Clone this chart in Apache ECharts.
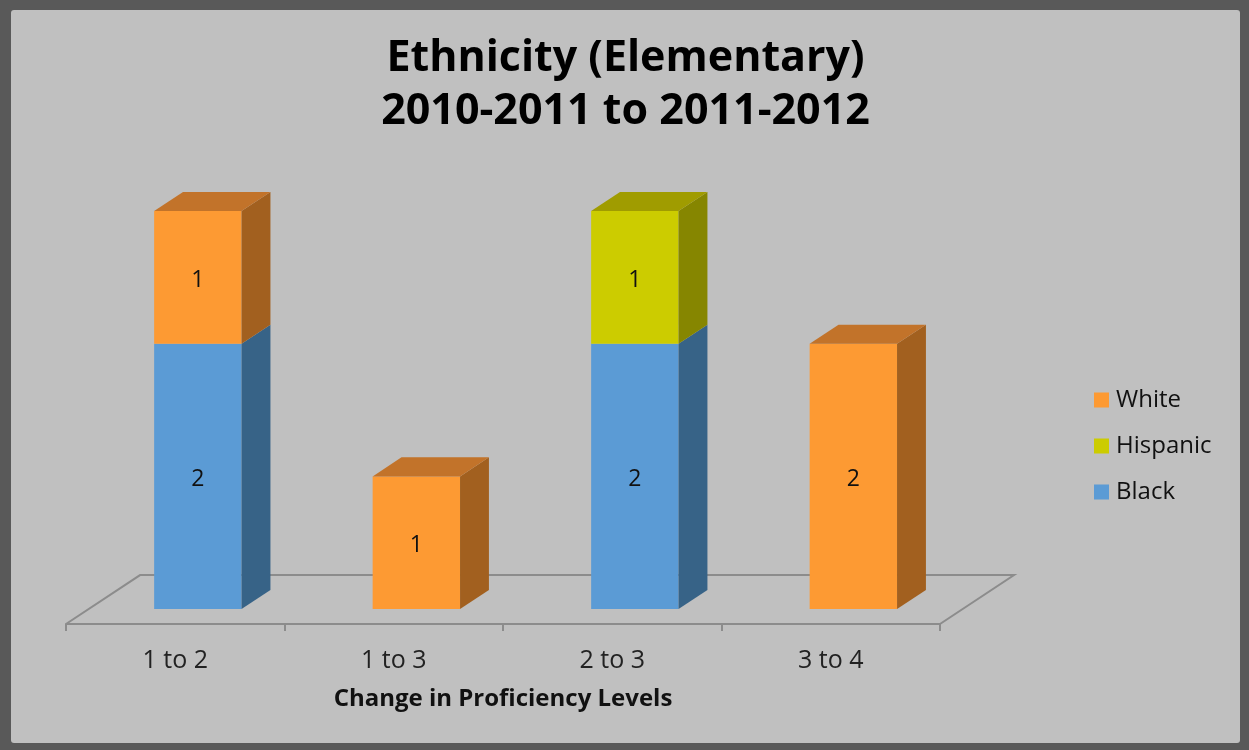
<!DOCTYPE html>
<html>
<head>
<meta charset="utf-8">
<script src="https://cdn.jsdelivr.net/npm/echarts@6/dist/echarts.min.js"></script>
<style>
  html, body { margin: 0; padding: 0; width: 1249px; height: 750px; background: #595959; overflow: hidden; }
  #chart { position: absolute; left: 11px; top: 10px; width: 1229px; height: 733px; border-radius: 3px; overflow: hidden; }
</style>
</head>
<body>
<div id="chart"></div>
<script>
// Categories and per-group counts (stacked bottom to top: Black, Hispanic, White)
const categories = ['1 to 2', '1 to 3', '2 to 3', '3 to 4'];
const black    = [2, 0, 2, 0];
const hispanic = [0, 0, 1, 0];
const white    = [1, 1, 0, 2];
const legendOrder = ['White', 'Hispanic', 'Black'];

// Face colours for each stack segment: front, side, top
const palette = {
  Black:    { front: '#5b9bd5', side: '#376387', top: '#4a80b2' },
  Hispanic: { front: '#cccc00', side: '#868600', top: '#a09c00' },
  White:    { front: '#fd9a33', side: '#a2601f', top: '#c2732a' }
};

const FONT = '"Open Sans", Lato, sans-serif';

// Oblique projection of the floor depth, as fractions of the category band
const DEPTH_X = 0.339, DEPTH_Y = -0.224;
const BAR_FRONT = 0.305, BAR_BACK = 0.695; // bar position within the floor depth
const BAR_WIDTH = 0.40;

const stackOrder = [['Black', black], ['Hispanic', hispanic], ['White', white]];
const totals = categories.map((_, i) => black[i] + hispanic[i] + white[i]);

function buildData(idx) {
  const values = stackOrder[idx][1];
  return categories.map((_, i) => {
    let base = 0;
    for (let k = 0; k < idx; k++) base += stackOrder[k][1][i];
    return [i, base, values[i]];
  });
}

function boxRenderer(name) {
  const col = palette[name];
  return function (params, api) {
    const cat = api.value(0), base = api.value(1), val = api.value(2);
    if (!val) return;
    const band = api.size([1, 0])[0];
    const dx = band * DEPTH_X, dy = band * DEPTH_Y;
    const pb = api.coord([cat, base]);
    const pt = api.coord([cat, base + val]);
    const w = band * BAR_WIDTH;
    const fx = pb[0] - w / 2 + dx * BAR_FRONT;
    const fyB = pb[1] + dy * BAR_FRONT;
    const fyT = pt[1] + dy * BAR_FRONT;
    const ddx = dx * (BAR_BACK - BAR_FRONT), ddy = dy * (BAR_BACK - BAR_FRONT);
    const children = [
      { type: 'rect', shape: { x: fx, y: fyT, width: w, height: fyB - fyT },
        style: { fill: col.front } },
      { type: 'polygon', shape: { points: [[fx + w, fyB], [fx + w + ddx, fyB + ddy], [fx + w + ddx, fyT + ddy], [fx + w, fyT]] },
        style: { fill: col.side } }
    ];
    if (base + val >= totals[cat]) {
      children.push({ type: 'polygon', shape: { points: [[fx, fyT], [fx + w, fyT], [fx + w + ddx, fyT + ddy], [fx + ddx, fyT + ddy]] },
        style: { fill: col.top } });
    }
    children.push({ type: 'text', x: fx + w / 2, y: (fyT + fyB) / 2 + 3,
      style: { text: String(val), fill: '#111', font: '23px ' + FONT, align: 'center', verticalAlign: 'middle' } });
    return { type: 'group', children };
  };
}

function floorRenderer(params, api) {
  const band = api.size([1, 0])[0];
  const dx = band * DEPTH_X, dy = band * DEPTH_Y;
  const l = api.coord([0, 0]);
  const r = api.coord([categories.length - 1, 0]);
  const x0 = l[0] - band / 2, x1 = r[0] + band / 2, y0 = l[1];
  return { type: 'polyline',
    shape: { points: [[x0, y0], [x0 + dx, y0 + dy], [x1 + dx, y0 + dy], [x1, y0]] },
    style: { stroke: '#8c8c8c', lineWidth: 2, fill: null } };
}

const series = [{
  name: 'floor', type: 'custom', renderItem: floorRenderer, data: [[0, 0]],
  encode: { x: 0, y: 1 }, z: 1, silent: true, clip: false
}];
stackOrder.forEach(([name], idx) => {
  series.push({
    name, type: 'custom', renderItem: boxRenderer(name), data: buildData(idx),
    encode: { x: 0, y: [1, 2] }, itemStyle: { color: palette[name].front }, z: 2 + idx, clip: false
  });
});

const chart = echarts.init(document.getElementById('chart'), null, { renderer: 'canvas' });
chart.setOption({
  backgroundColor: '#c0c0c0',
  animation: false,
  title: {
    text: 'Ethnicity (Elementary)\n2010-2011 to 2011-2012',
    left: 'center', top: 17,
    textStyle: { fontFamily: FONT, fontWeight: 'bold', fontSize: 43, lineHeight: 53, color: '#000' }
  },
  legend: {
    data: legendOrder, orient: 'vertical', left: 1078, top: 373,
    icon: 'rect', itemWidth: 15, itemHeight: 15, itemGap: 22,
    textStyle: { fontFamily: FONT, fontSize: 24, lineHeight: 22, color: '#111', padding: [0, 0, 0, 2] }
  },
  grid: { left: 55, right: 300, top: 216, bottom: 119 },
  xAxis: {
    type: 'category', data: categories,
    name: 'Change in Proficiency Levels', nameLocation: 'middle', nameGap: 63,
    nameTextStyle: { fontFamily: FONT, fontWeight: 'bold', fontSize: 24, color: '#111' },
    axisLine: { lineStyle: { color: '#8c8c8c', width: 2 } },
    axisTick: { show: true, length: 7, lineStyle: { color: '#8c8c8c', width: 2 } },
    axisLabel: { fontFamily: FONT, fontSize: 25, color: '#222', margin: 24 }
  },
  yAxis: { type: 'value', min: 0, max: 3, show: false },
  series
});
</script>
</body>
</html>
